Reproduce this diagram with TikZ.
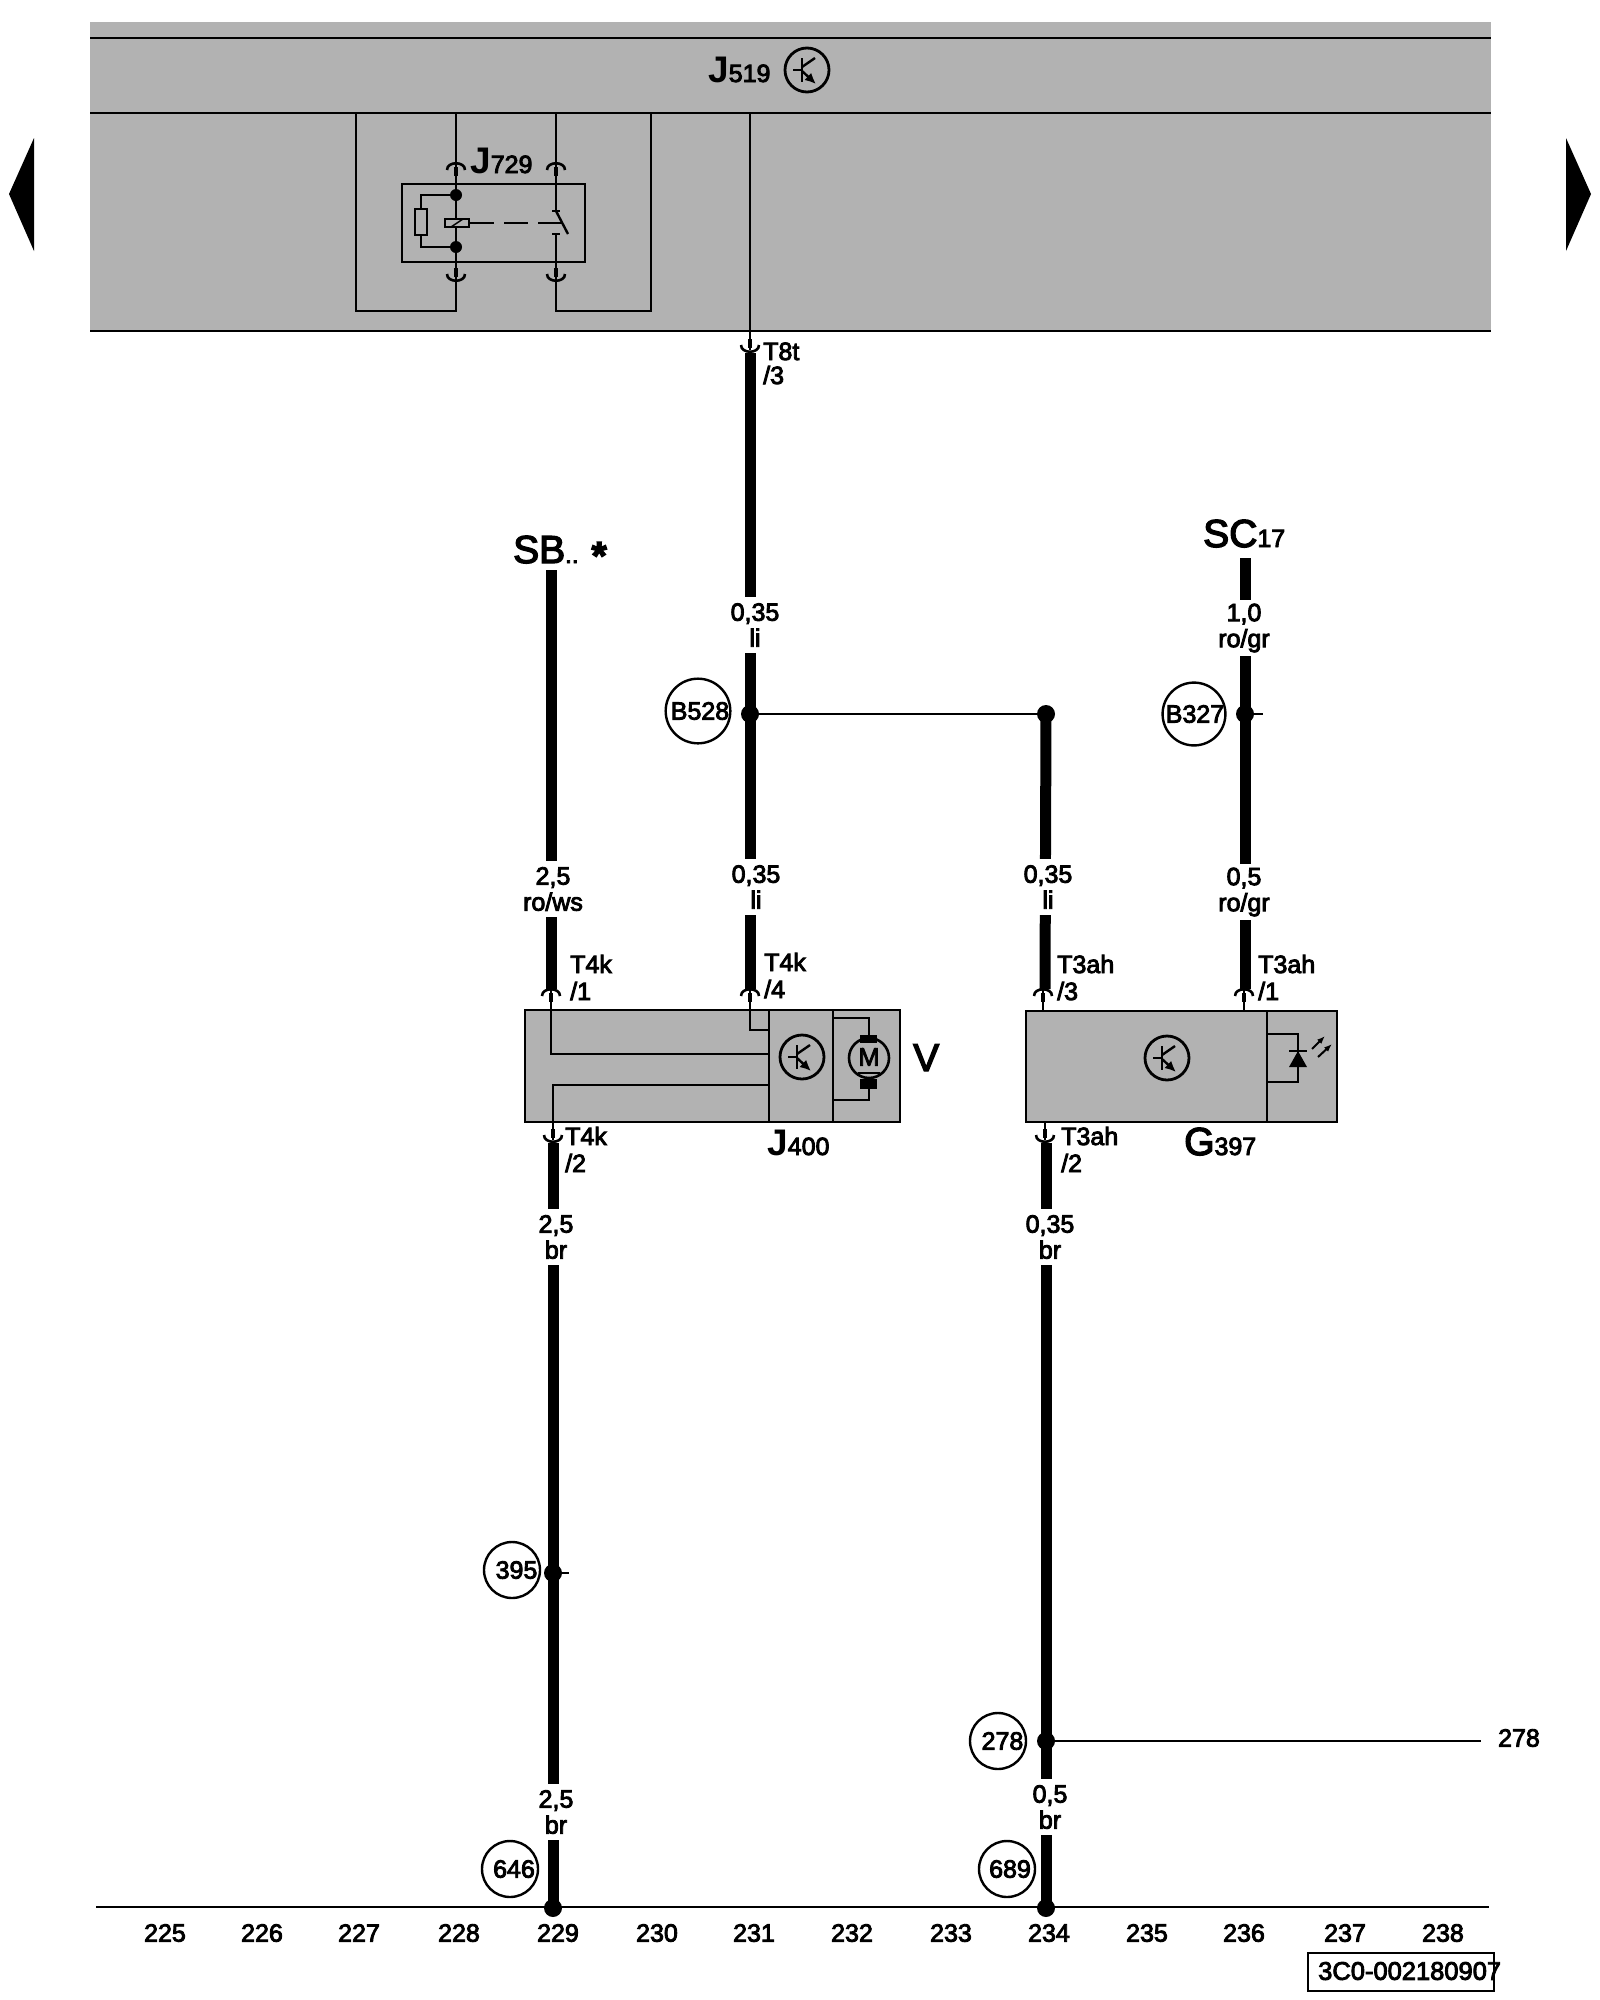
\documentclass[tikz,border=0pt]{standalone}
\usepackage{fontspec}
\usepackage{tikz}
\usetikzlibrary{arrows.meta}
\setmainfont{Liberation Sans}
\newfontfamily\midfont[FakeBold=3.5]{Liberation Sans}
\newcommand{\smallmid}{\midfont\fontsize{25}{26}\selectfont}
\newcommand{\bigsub}[2]{{\fontsize{37}{37}\selectfont\bfseries #1}{\midfont\fontsize{25}{25}\selectfont #2}}
\newcommand{\bigplain}[2]{{\midfont\fontsize{39}{39}\selectfont #1}{\midfont\fontsize{25}{25}\selectfont #2}}
\definecolor{panelgrey}{HTML}{B2B2B2}
\tikzset{
  thinwire/.style={line width=2.4pt,draw=black},
  fatwire/.style={line width=11pt,draw=black},
  wirelabel/.style={font=\smallmid,fill=white,align=center,inner sep=0pt,minimum height=56pt,minimum width=30pt},
  pinlabel/.style={font=\smallmid,anchor=base west,inner sep=0pt},
  reflabel/.style={font=\smallmid,draw,circle,line width=2.4pt,minimum size=#1,inner sep=0pt},
  tick/.style={font=\smallmid,inner sep=0pt},
  dot/.style={circle,fill=black,inner sep=0pt,minimum size=#1},
  greybox/.style={fill=panelgrey,draw=black,line width=2.4pt},
  plugup/.pic={
    \draw[line width=2.6pt] (-9,0) .. controls (-9,-9) and (9,-9) .. (9,0);
    \draw[line width=4pt] (0,-3) -- (0,6);
  },
  plugdown/.pic={
    \draw[line width=2.6pt] (-9,0) .. controls (-9,9) and (9,9) .. (9,0);
    \draw[line width=4pt] (0,3) -- (0,-6);
  },
  transistor/.pic={
    \draw[line width=2.8pt] (0,0) circle [radius=22];
    \draw[line width=2.4pt] (-14,0) -- (-5,0);
    \draw[line width=2.4pt] (-5,-12) -- (-5,12);
    \draw[line width=2.4pt] (-5,-3) -- (8,-12);
    \draw[line width=2.4pt,-{Latex[length=11pt,width=10pt]}] (-5,1) -- (9,14);
  }
}
\begin{document}
\begin{tikzpicture}[x=1pt,y=-1pt]
  \useasboundingbox (0,0) rectangle (1600,2000);
  % control unit panel
  \fill[panelgrey] (90,22) rectangle (1491,331);
  \coordinate (panelTL) at (90,38);  \coordinate (panelTR) at (1491,38);
  \coordinate (panelML) at (90,113); \coordinate (panelMR) at (1491,113);
  \coordinate (panelBL) at (90,331); \coordinate (panelBR) at (1491,331);
  \draw[thinwire] (panelTL) -- (panelTR);
  \draw[thinwire] (panelML) -- (panelMR);
  \draw[thinwire] (panelBL) -- (panelBR);
  \node[anchor=base west,inner sep=0pt] (j519) at (708,82) {\bigsub{J}{519}};
  \pic at (807,70) {transistor};
  % page arrows
  \fill (9,194) -- (34,138) -- (34,251) -- cycle;
  \fill (1591,194) -- (1566,138) -- (1566,251) -- cycle;
  % relay J729
  \node[draw,line width=2.4pt,minimum width=183pt,minimum height=78pt,inner sep=0pt] (relay) at (493.5,223) {};
  \node[anchor=base west,inner sep=0pt] (j729) at (470,173) {\bigsub{J}{729}};
  \coordinate (loopA) at (356,113);  \coordinate (loopB) at (356,311);
  \coordinate (loopC) at (651,113);  \coordinate (loopD) at (651,311);
  \coordinate (coilT) at (456,113);  \coordinate (coilB) at (456,311);
  \coordinate (contT) at (556,113);  \coordinate (contB) at (556,311);
  \draw[thinwire] (loopA) -- (loopB) -- (coilB) -- (coilT);
  \draw[thinwire] (loopC) -- (loopD) -- (contB) -- (556,234);
  \draw[thinwire] (contT) -- (556,211);
  \node[dot=12pt] (coilup) at (456,195) {};
  \node[dot=12pt] (coildn) at (456,247) {};
  \draw[thinwire] (coilup) -- (421,195) -- (421,247) -- (coildn);
  \node[greybox,minimum width=12pt,minimum height=26pt,inner sep=0pt] (resist) at (421,222) {};
  \node[greybox,minimum width=24pt,minimum height=8pt,inner sep=0pt] (coil) at (457,223) {};
  \draw[line width=1.5pt] (451,227) -- (463,219);
  \draw[thinwire,dash pattern=on 24pt off 10pt] (coil.east) -- (566,223);
  \draw[thinwire] (552,211) -- (560,211);
  \draw[thinwire] (556,211) -- (568,234);
  \draw[thinwire] (552,234) -- (560,234);
  \pic at (456,170) {plugup};
  \pic at (556,170) {plugup};
  \pic at (456,274) {plugdown};
  \pic at (556,274) {plugdown};
  % unit V / J400
  \node[greybox,minimum width=375pt,minimum height=112pt,inner sep=0pt] (vbox) at (712.5,1066) {};
  \coordinate (vdivA) at (769,1010); \coordinate (vdivB) at (769,1122);
  \coordinate (vdivC) at (833,1010); \coordinate (vdivD) at (833,1122);
  \draw[thinwire] (vdivA) -- (vdivB);
  \draw[thinwire] (vdivC) -- (vdivD);
  \draw[thinwire] (551,990) -- (551,1054) -- (769,1054);
  \draw[thinwire] (750,990) -- (750,1030) -- (769,1030);
  \draw[thinwire] (769,1085) -- (553,1085) -- (553,1140);
  \pic at (802,1057) {transistor};
  \draw[thinwire] (833,1018) -- (869,1018) -- (869,1036);
  \draw[thinwire] (869,1088) -- (869,1100) -- (833,1100);
  \fill (860,1035) rectangle (877,1043);
  \fill (860,1079) rectangle (877,1089);
  \node[draw,circle,line width=2.6pt,minimum size=40pt,inner sep=0pt,font=\smallmid] (motor) at (869,1058) {\raisebox{2pt}{M}};
  \draw[thinwire] (858,1073) -- (880,1073);
  \node[anchor=base west,inner sep=0pt,font=\midfont\fontsize{39}{39}\selectfont] (vname) at (913,1071) {V};
  \node[anchor=base west,inner sep=0pt] (j400) at (767,1155) {\bigsub{J}{400}};
  % sensor G397
  \node[greybox,minimum width=311pt,minimum height=111pt,inner sep=0pt] (gbox) at (1181.5,1066.5) {};
  \coordinate (gdivA) at (1267,1011); \coordinate (gdivB) at (1267,1122);
  \draw[thinwire] (gdivA) -- (gdivB);
  \pic at (1167,1058) {transistor};
  \draw[thinwire] (1267,1034) -- (1298,1034) -- (1298,1082) -- (1267,1082);
  \fill (1289,1067) -- (1307,1067) -- (1298,1051) -- cycle;
  \draw[thinwire] (1289,1051) -- (1307,1051);
  \draw[line width=2pt,-{Latex[length=8pt,width=6pt]}] (1312,1049) -- (1325,1036);
  \draw[line width=2pt,-{Latex[length=8pt,width=6pt]}] (1318,1057) -- (1332,1044);
  \draw[thinwire] (1043,990) -- (1043,1011);
  \draw[thinwire] (1244,990) -- (1244,1011);
  \draw[thinwire] (1045,1122) -- (1045,1140);
  \node[anchor=base west,inner sep=0pt] (g397) at (1184,1155) {\bigplain{G}{397}};
  % heavy wires
  \coordinate (sbtop)  at (551,570);  \coordinate (sbend)  at (551,989);
  \coordinate (t8end)  at (750,353);  \coordinate (t4four) at (750,989);
  \coordinate (branch) at (1046,714); \coordinate (t3three) at (1045,989);
  \coordinate (sctop)  at (1245,558); \coordinate (t3one)  at (1245,989);
  \coordinate (t4two)  at (553,1143); \coordinate (gndA)   at (553,1908);
  \coordinate (t3two)  at (1046,1143); \coordinate (gndB)  at (1046,1908);
  \draw[fatwire] (sbtop) -- (sbend);
  \draw[fatwire] (t8end) -- (t4four);
  \draw[fatwire] (branch) -- (t3three);
  \draw[fatwire] (sctop) -- (t3one);
  \draw[fatwire] (t4two) -- (gndA);
  \draw[fatwire] (t3two) -- (gndB);
  \coordinate (t8top) at (750,113);
  \draw[thinwire] (t8top) -- (750,350);
  \pic at (750,345) {plugdown};
  \pic at (551,996) {plugup};
  \pic at (750,996) {plugup};
  \pic at (1043,996) {plugup};
  \pic at (1244,996) {plugup};
  \pic at (553,1135) {plugdown};
  \pic at (1045,1135) {plugdown};
  % splices and side branches
  \node[dot=18pt] (spliceB) at (750,714) {};
  \node[dot=18pt] (spliceC) at (1046,714) {};
  \node[dot=18pt] (spliceD) at (1245,714) {};
  \node[dot=18pt] (spliceE) at (553,1573) {};
  \node[dot=18pt] (spliceF) at (1046,1741) {};
  \node[dot=18pt] (earthA) at (553,1908) {};
  \node[dot=18pt] (earthB) at (1046,1908) {};
  \coordinate (stubD) at (1263,714);
  \coordinate (stubE) at (569,1573);
  \coordinate (farF) at (1481,1741);
  \draw[thinwire] (spliceB) -- (spliceC);
  \draw[thinwire] (spliceD) -- (stubD);
  \draw[thinwire] (spliceE) -- (stubE);
  \draw[thinwire] (spliceF) -- (farF);
  \node[font=\smallmid,inner sep=0pt] (page278) at (1519,1738) {278};
  % earth line
  \coordinate (gndL) at (96,1907); \coordinate (gndR) at (1489,1907);
  \draw[thinwire] (gndL) -- (gndR);
  % wire sizes
  \node[wirelabel] (sizeA) at (553,889) {2,5\\ro/ws};
  \node[wirelabel] (sizeB) at (755,625) {0,35\\li};
  \node[wirelabel] (sizeC) at (756,887) {0,35\\li};
  \node[wirelabel] (sizeD) at (1048,887) {0,35\\li};
  \node[wirelabel] (sizeE) at (1244,628) {1,0\\ro/gr};
  \node[wirelabel] (sizeF) at (1244,892) {0,5\\ro/gr};
  \node[wirelabel] (sizeG) at (556,1237) {2,5\\br};
  \node[wirelabel] (sizeH) at (1050,1237) {0,35\\br};
  \node[wirelabel] (sizeI) at (556,1812) {2,5\\br};
  \node[wirelabel] (sizeJ) at (1050,1807) {0,5\\br};
  % pins
  \node[pinlabel] (pinT8) at (763,360) {T8t};
  \node[pinlabel] (pinT8b) at (763,384) {/3};
  \node[pinlabel] (pinA) at (570,973) {T4k};
  \node[pinlabel] (pinAb) at (570,1000) {/1};
  \node[pinlabel] (pinB) at (764,971) {T4k};
  \node[pinlabel] (pinBb) at (764,998) {/4};
  \node[pinlabel] (pinC) at (565,1145) {T4k};
  \node[pinlabel] (pinCb) at (565,1172) {/2};
  \node[pinlabel] (pinD) at (1057,973) {T3ah};
  \node[pinlabel] (pinDb) at (1057,1000) {/3};
  \node[pinlabel] (pinE) at (1258,973) {T3ah};
  \node[pinlabel] (pinEb) at (1258,1000) {/1};
  \node[pinlabel] (pinF) at (1061,1145) {T3ah};
  \node[pinlabel] (pinFb) at (1061,1172) {/2};
  % supply names
  \node[anchor=base west,inner sep=0pt] (sbname) at (513,563) {\midfont\fontsize{39}{39}\selectfont SB{\fontsize{24}{24}\selectfont ..}\,\,\raisebox{-6pt}{\bfseries *}};
  \node[anchor=base west,inner sep=0pt] (scname) at (1203,547) {\bigplain{SC}{17}};
  % reference circles
  \node[reflabel=62pt] (b528) at (698,711) {\hspace*{4pt}B528};
  \node[reflabel=62pt] (b327) at (1194,714) {\hspace*{2pt}B327};
  \node[reflabel=56pt] (r395) at (512,1570) {\hspace*{9pt}395};
  \node[reflabel=56pt] (r278) at (998,1741) {\hspace*{9pt}278};
  \node[reflabel=56pt] (r646) at (510,1869) {\hspace*{8pt}646};
  \node[reflabel=56pt] (r689) at (1007,1869) {\hspace*{6pt}689};
  % current track numbers
  \foreach \track/\xpos in {225/165,226/262,227/359,228/459,229/558,230/657,231/754,232/852,233/951,234/1049,235/1147,236/1244,237/1345,238/1443}
    \node[tick] (track\track) at (\xpos,1933) {\track};
  % drawing number
  \node[draw,line width=2.4pt,minimum width=186pt,minimum height=38pt,inner sep=0pt] (idbox) at (1401,1972) {};
  \node[anchor=west,inner sep=0pt,font=\smallmid\fontsize{25.5}{26}\selectfont] (idtext) at (1318,1971) {3C0-002180907};
\end{tikzpicture}
\end{document}
